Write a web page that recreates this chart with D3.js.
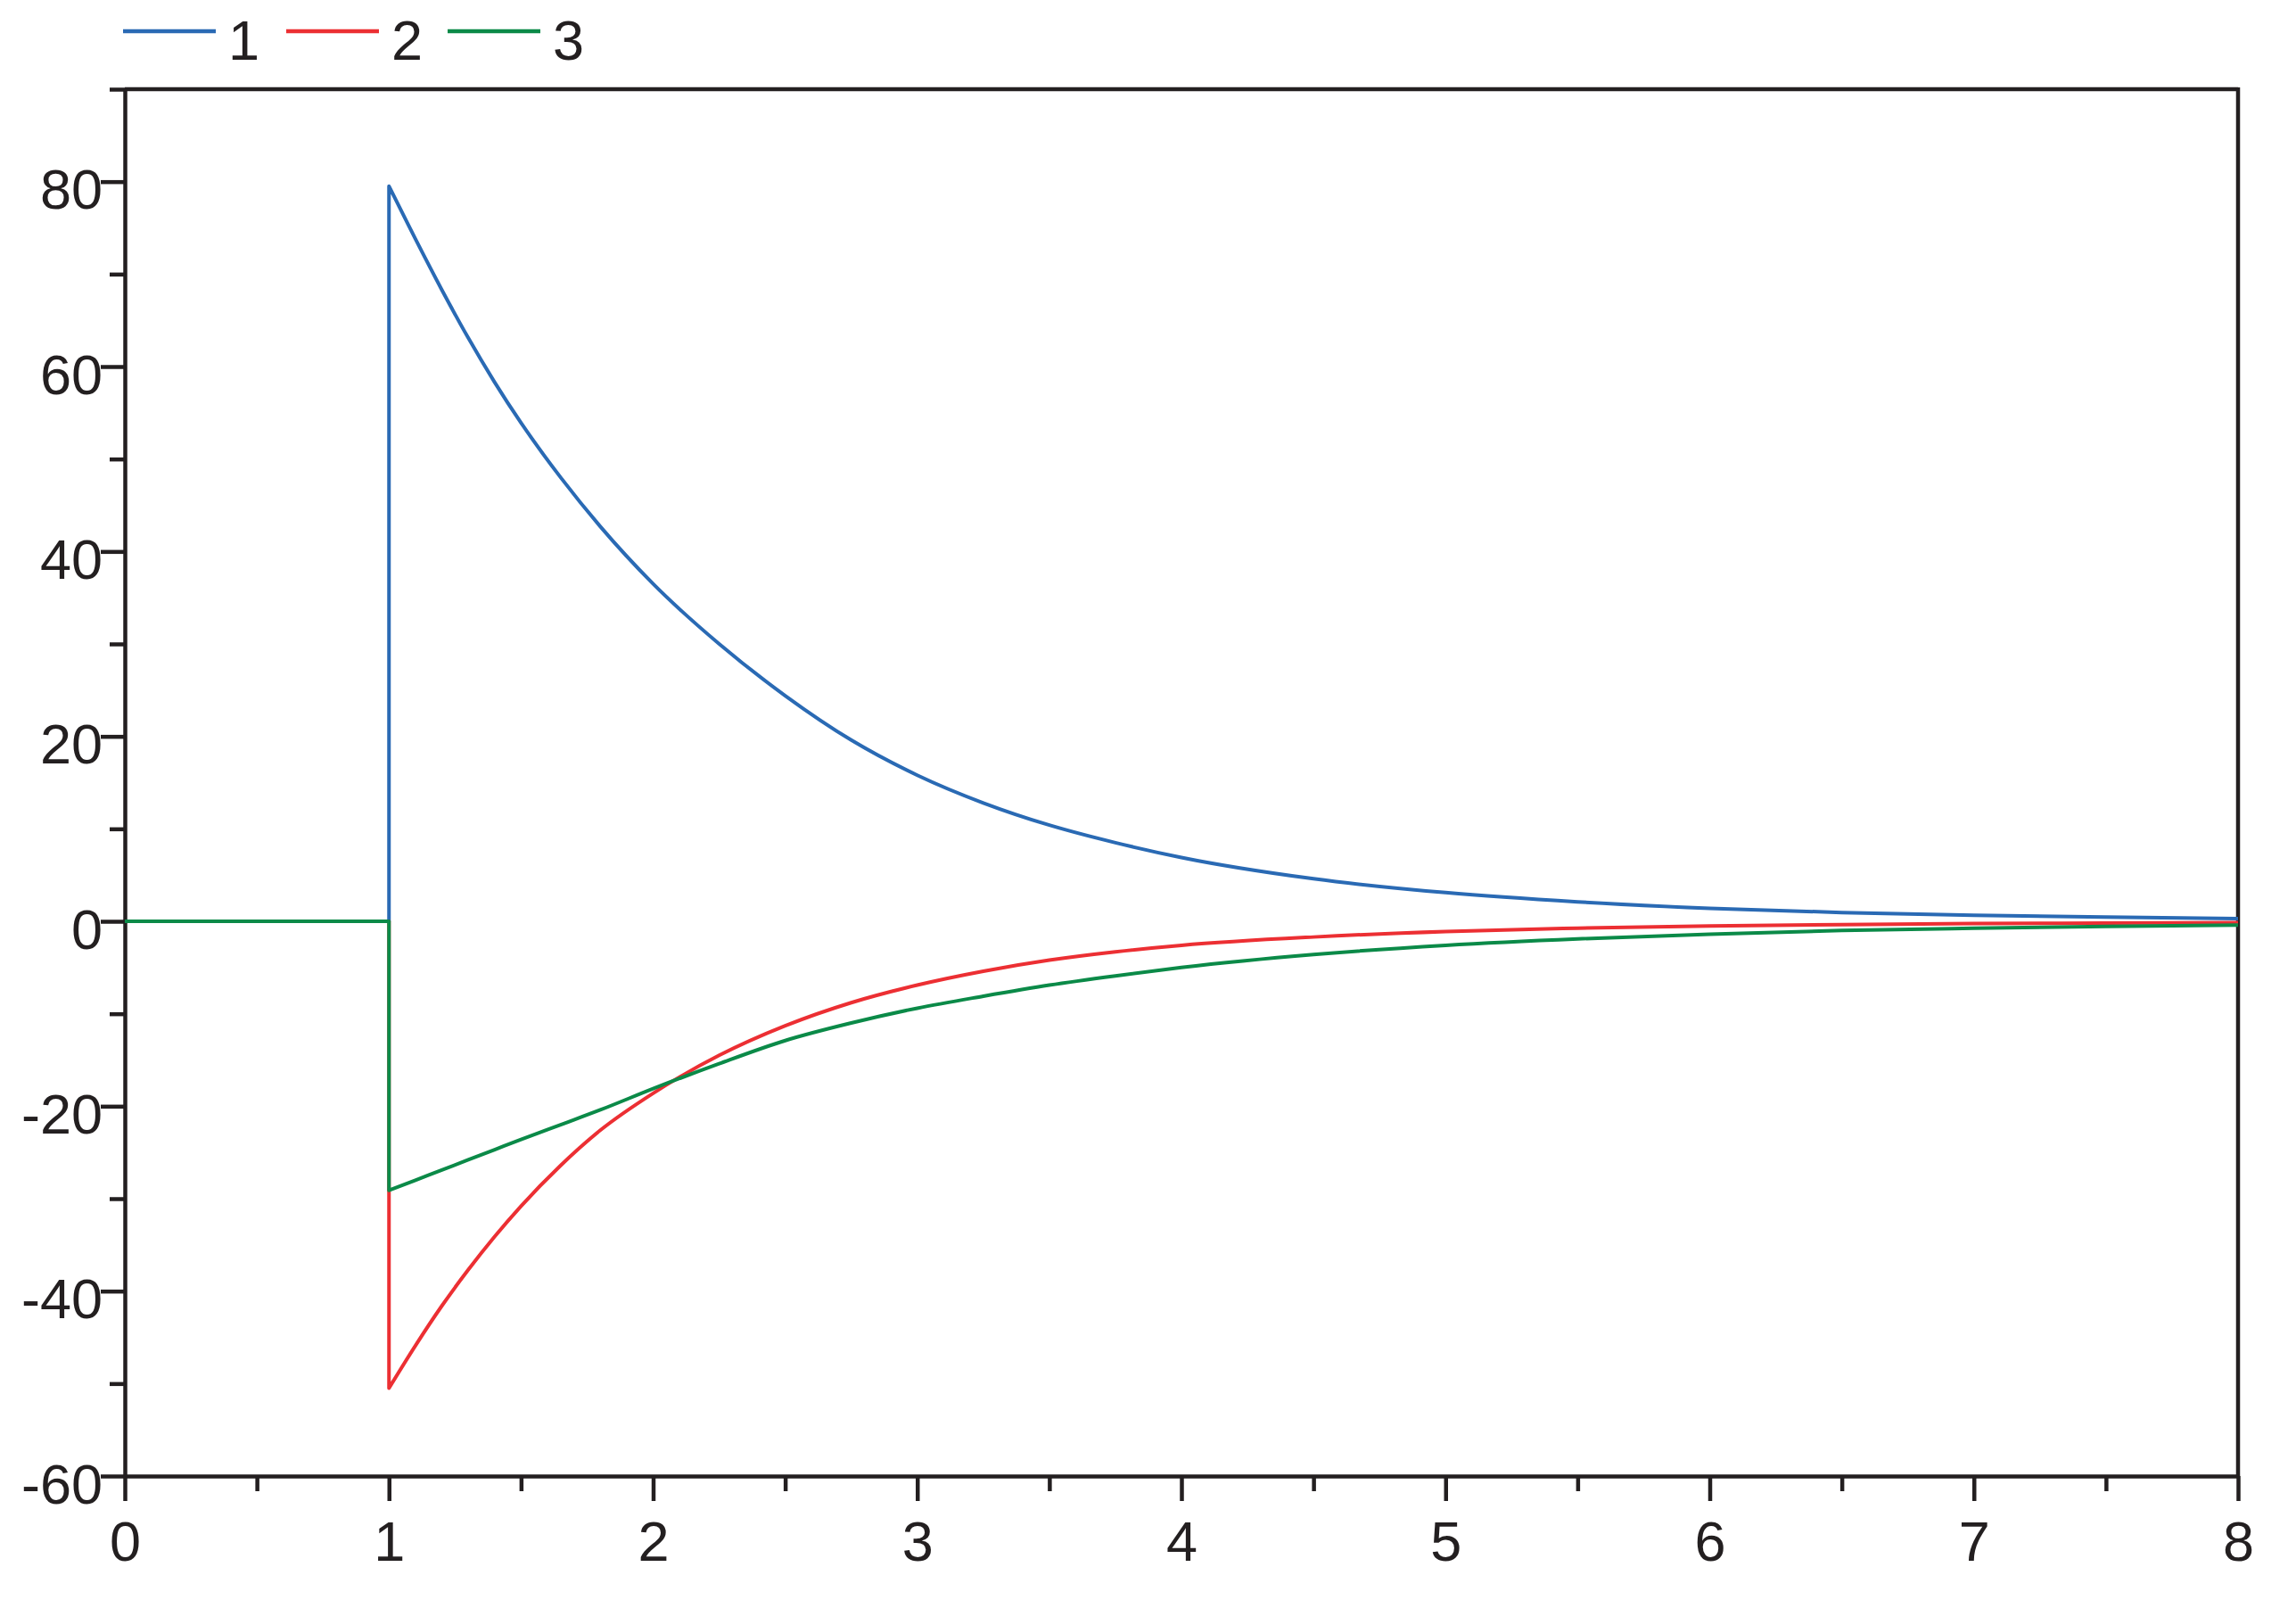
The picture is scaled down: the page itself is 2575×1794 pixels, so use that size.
<!DOCTYPE html>
<html>
<head>
<meta charset="utf-8">
<style>
body { margin: 0; background: #fff; }
text { font-family: "Liberation Sans", Arial, sans-serif; fill: #231f20; }
.axis path, .axis line { stroke: #231f20; stroke-width: 4.5px; }
.series { fill: none; stroke-width: 4px; stroke-linejoin: round; }
</style>
</head>
<body>
<script src="https://cdn.jsdelivr.net/npm/d3@7/dist/d3.min.js"></script>
<script>
var width = 2575, height = 1794;
var margin = {left: 140, right: 65, top: 100, bottom: 139};

// series (all zero until the step at t = 1)
var seriesNames = ["1", "2", "3"];
var seriesColors = ["#2a6ab4", "#ec2f33", "#0b8a48"];
var stepTime = 1;
var times = [1, 1.1, 1.2, 1.3, 1.4, 1.5, 1.65, 1.8, 2, 2.25, 2.5, 2.75, 3, 3.25, 3.5, 3.75, 4, 4.5, 5, 5.5, 6, 6.5, 7, 7.5, 8];
var values1 = [79.5, 73.8, 68.3, 63.1, 58.3, 53.9, 48.0, 42.7, 36.5, 30.0, 24.4, 19.6, 15.8, 12.8, 10.4, 8.5, 6.9, 4.6, 3.1, 2.1, 1.4, 0.95, 0.65, 0.45, 0.3];
var values2 = [-50.5, -45.9, -41.6, -37.7, -34.1, -30.8, -26.4, -22.6, -18.6, -14.5, -11.3, -8.8, -6.9, -5.4, -4.2, -3.3, -2.6, -1.7, -1.1, -0.75, -0.5, -0.35, -0.25, -0.2, -0.15];
var values3 = [-29.1, -28.0, -26.9, -25.8, -24.7, -23.6, -22.0, -20.4, -18.1, -15.4, -12.9, -11.0, -9.4, -8.1, -6.9, -5.9, -5.0, -3.6, -2.6, -1.9, -1.4, -1.0, -0.75, -0.55, -0.4];

var xMajor = [0, 1, 2, 3, 4, 5, 6, 7, 8];
var xMinor = [0.5, 1.5, 2.5, 3.5, 4.5, 5.5, 6.5, 7.5];
var yMajor = [-60, -40, -20, 0, 20, 40, 60, 80];
var yMinor = [-50, -30, -10, 10, 30, 50, 70, 90];

var svg = d3.select("body").append("svg")
    .attr("width", width)
    .attr("height", height);

var x = d3.scaleLinear()
    .domain([0, 8])
    .range([margin.left, width - margin.right]);

var y = d3.scaleLinear()
    .domain([-60, 90])
    .range([height - margin.bottom, margin.top]);

// plain hyphen for negatives, like the original
var plain = function(d) { return String(d); };

// axes
svg.append("g")
    .attr("class", "axis")
    .attr("transform", "translate(0," + y(-60) + ")")
    .call(d3.axisBottom(x).tickValues(xMajor).tickFormat(plain)
        .tickSize(28).tickSizeOuter(0).tickPadding(22));

svg.append("g")
    .attr("class", "axis")
    .attr("transform", "translate(0," + y(-60) + ")")
    .call(d3.axisBottom(x).tickValues(xMinor).tickFormat("").tickSize(17))
    .select(".domain").remove();

var yAxis = svg.append("g")
    .attr("class", "axis")
    .attr("transform", "translate(" + x(0) + ",0)")
    .call(d3.axisLeft(y).tickValues(yMajor).tickFormat(plain)
        .tickSize(27).tickSizeOuter(0).tickPadding(-2));

svg.append("g")
    .attr("class", "axis")
    .attr("transform", "translate(" + x(0) + ",0)")
    .call(d3.axisLeft(y).tickValues(yMinor).tickFormat("").tickSize(17))
    .select(".domain").remove();

svg.selectAll(".axis text")
    .style("font-size", "63px")
    .attr("fill", "#231f20");
yAxis.selectAll("text").attr("dy", "0.48em");

// frame top and right
svg.append("line")
    .attr("x1", x(0)).attr("x2", x(8))
    .attr("y1", y(90)).attr("y2", y(90))
    .attr("stroke", "#231f20").attr("stroke-width", 4.5);
svg.append("line")
    .attr("x1", x(8)).attr("x2", x(8))
    .attr("y1", y(90) - 2).attr("y2", y(-60))
    .attr("stroke", "#231f20").attr("stroke-width", 4.5);

// curves
var allValues = [values1, values2, values3];

var stepLine = d3.line()
    .x(function(d) { return x(d[0]); })
    .y(function(d) { return y(d[1]); });

var decayLine = d3.line()
    .x(function(d) { return x(d[0]); })
    .y(function(d) { return y(d[1]); })
    .curve(d3.curveMonotoneX);

allValues.forEach(function(vals, i) {
  var pts = times.map(function(t, j) { return [t, vals[j]]; });
  var head = stepLine([[0, 0], [stepTime, 0], [stepTime, vals[0]]]);
  var tail = decayLine(pts).replace(/^M/, "L");
  svg.append("path")
      .attr("class", "series")
      .attr("stroke", seriesColors[i])
      .attr("d", head + tail);
});

// legend
var legend = svg.append("g").attr("class", "legend");
var legendX = [138, 321, 502];

seriesNames.forEach(function(name, i) {
  legend.append("line")
      .attr("x1", legendX[i]).attr("x2", legendX[i] + 104)
      .attr("y1", 35).attr("y2", 35)
      .attr("stroke", seriesColors[i])
      .attr("stroke-width", 4.5);
  legend.append("text")
      .attr("x", legendX[i] + 118)
      .attr("y", 67)
      .style("font-size", "63px")
      .text(name);
});
</script>
</body>
</html>
